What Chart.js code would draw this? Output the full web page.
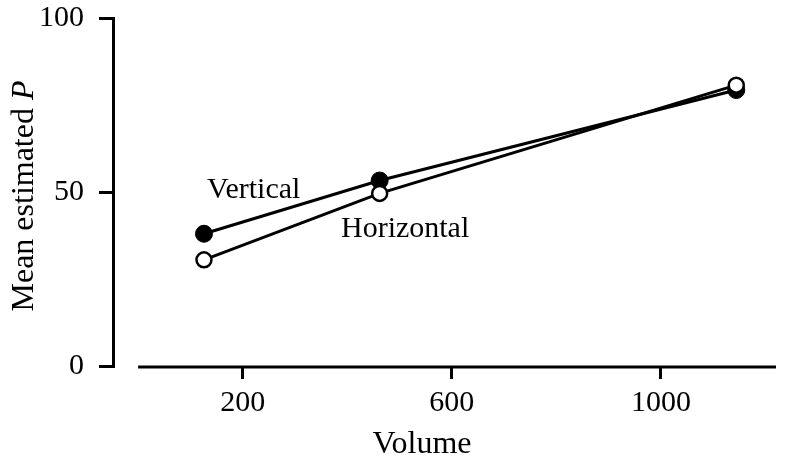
<!DOCTYPE html>
<html>
<head>
<meta charset="utf-8">
<script src="https://cdn.jsdelivr.net/npm/chart.js@4.4.1/dist/chart.umd.min.js"></script>
<style>
  body { margin: 0; background: #fff; }
  #wrap { width: 786px; height: 459px; }
</style>
</head>
<body>
<div id="wrap"><canvas id="chart" width="786" height="459"></canvas></div>
<script>
// values
const volumes = [126, 462, 1144];
const verticalP = [38.0, 53.3, 79.3];
const horizontalP = [30.5, 49.6, 80.7];
const xTicks = [200, 600, 1000];
const yTicks = [0, 50, 100];
const seriesNames = ['Vertical', 'Horizontal'];
// where the series names sit, in data units
const nameAt = [[132, 48.4], [388, 37.2]];

const serif = '"Liberation Serif", "DejaVu Serif", serif';

const toPoints = (xs, ys) => xs.map((x, i) => ({ x: x, y: ys[i] }));

const extras = {
    id: 'extras',
    afterDraw(chart) {
        const ctx = chart.ctx;
        const xs = chart.scales.x;
        const ys = chart.scales.y;
        const area = chart.chartArea;
        ctx.save();

        // x axis line, starting at 0 (detached from the y axis)
        ctx.strokeStyle = '#000';
        ctx.lineWidth = 3;
        ctx.beginPath();
        ctx.moveTo(xs.getPixelForValue(0), area.bottom + 1);
        ctx.lineTo(area.right, area.bottom + 1);
        ctx.stroke();

        // series names
        ctx.fillStyle = '#000';
        ctx.font = '30px ' + serif;
        ctx.textAlign = 'left';
        ctx.textBaseline = 'alphabetic';
        seriesNames.forEach((name, i) => {
            ctx.fillText(name, xs.getPixelForValue(nameAt[i][0]), ys.getPixelForValue(nameAt[i][1]));
        });

        // x title
        ctx.font = '32px ' + serif;
        ctx.textAlign = 'center';
        ctx.fillText('Volume', 422, 453);

        // y title, rotated, with italic P
        ctx.translate(33, (area.top + area.bottom) / 2 + 4);
        ctx.rotate(-Math.PI / 2);
        ctx.textAlign = 'left';
        const part1 = 'Mean estimated ';
        ctx.font = '32px ' + serif;
        const w1 = ctx.measureText(part1).width;
        ctx.font = 'italic 32px ' + serif;
        const w2 = ctx.measureText('P').width;
        const start = -(w1 + w2) / 2;
        ctx.font = '32px ' + serif;
        ctx.fillText(part1, start, 0);
        ctx.font = 'italic 32px ' + serif;
        ctx.fillText('P', start + w1, 0);

        ctx.restore();
    }
};

new Chart(document.getElementById('chart'), {
    type: 'line',
    data: {
        datasets: [
            {
                label: 'Horizontal',
                data: toPoints(volumes, horizontalP),
                borderColor: '#000',
                borderWidth: 3,
                pointBackgroundColor: '#fff',
                pointBorderColor: '#000',
                pointBorderWidth: 2.5,
                pointRadius: 7.5,
                tension: 0,
                clip: false
            },
            {
                label: 'Vertical',
                data: toPoints(volumes, verticalP),
                borderColor: '#000',
                borderWidth: 3,
                pointBackgroundColor: '#000',
                pointBorderColor: '#000',
                pointBorderWidth: 1,
                pointRadius: 8.5,
                tension: 0,
                clip: false
            }
        ]
    },
    options: {
        responsive: false,
        animation: false,
        events: [],
        layout: { padding: { top: 18, right: 4, left: 0, bottom: 0 } },
        plugins: {
            legend: { display: false },
            tooltip: { enabled: false }
        },
        scales: {
            x: {
                type: 'linear',
                min: -48,
                max: 1220,
                afterBuildTicks: s => { s.ticks = xTicks.map(v => ({ value: v })); },
                afterFit: s => { s.height = 93; s.paddingLeft = 0; s.paddingRight = 0; },
                border: { display: false },
                grid: {
                    drawOnChartArea: false,
                    drawTicks: true,
                    tickLength: 13,
                    color: '#000',
                    lineWidth: 3
                },
                ticks: {
                    color: '#000',
                    font: { family: serif, size: 30 },
                    padding: 6,
                    maxRotation: 0,
                    callback: v => String(v)
                }
            },
            y: {
                type: 'linear',
                min: 0,
                max: 100,
                afterBuildTicks: s => { s.ticks = yTicks.map(v => ({ value: v })); },
                afterFit: s => { s.width = 113; s.paddingTop = 0; s.paddingBottom = 0; },
                border: { display: true, color: '#000', width: 3 },
                grid: {
                    drawOnChartArea: false,
                    drawTicks: true,
                    tickLength: 14,
                    color: '#000',
                    lineWidth: 3
                },
                ticks: {
                    color: '#000',
                    font: { family: serif, size: 30 },
                    padding: 15,
                    callback: v => String(v)
                }
            }
        }
    },
    plugins: [extras]
});
</script>
</body>
</html>
